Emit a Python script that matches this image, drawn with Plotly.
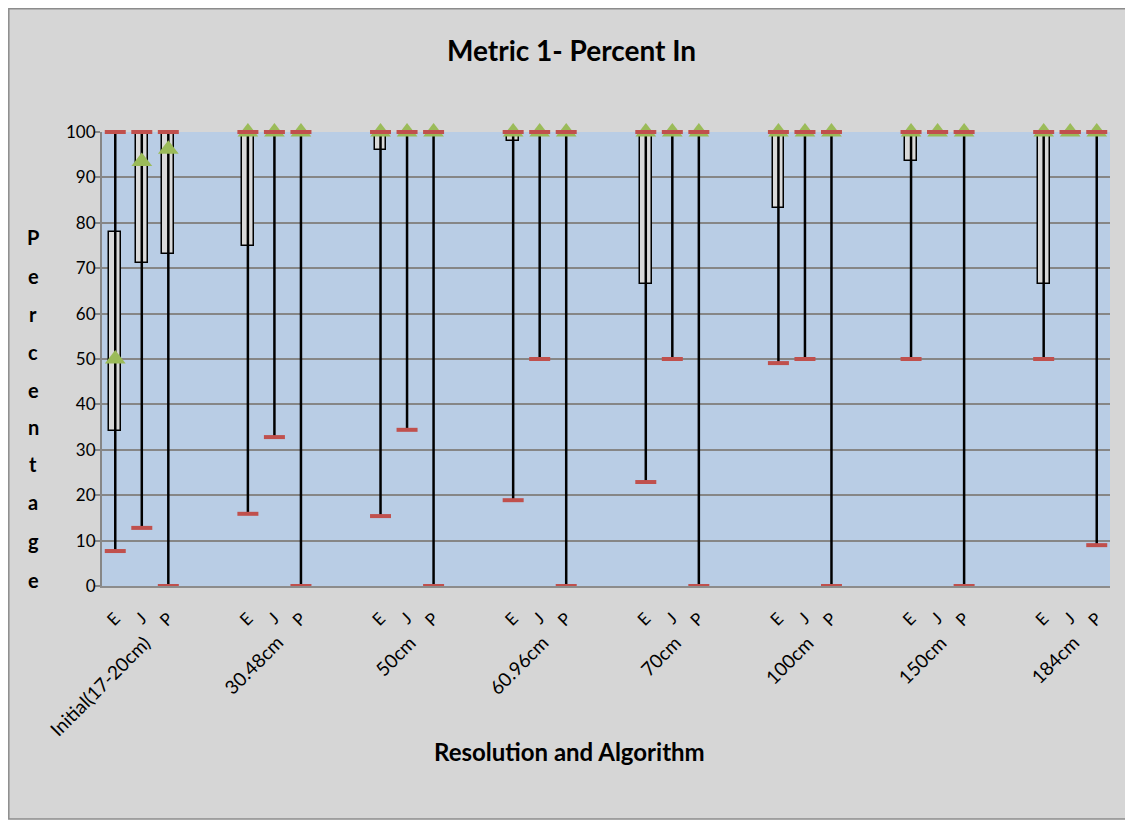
import plotly.graph_objects as go

# ---------------- data ----------------
groups = ["Initial(17-20cm)", "30.48cm", "50cm", "60.96cm", "70cm", "100cm", "150cm", "184cm"]
algorithms = ["E", "J", "P"]

# one value per (group, algorithm), in order E, J, P for each group
high = [100, 100, 100,  100, 100, 100,  100, 100, 100,  100, 100, 100,
        100, 100, 100,  100, 100, 100,  100, 100, 100,  100, 100, 100]
low = [7.7, 12.8, 0,  15.9, 32.8, 0,  15.4, 34.4, 0,  18.9, 50, 0,
       22.9, 50, 0,  49.1, 50, 0,  50, 100, 0,  50, 100, 9.0]
box_low = [34.2, 71.2, 73.1,  75, 100, 100,  96, 100, 100,  98, 100, 100,
           66.5, 100, 100,  83.3, 100, 100,  93.6, 100, 100,  66.5, 100, 100]
box_high = [78, 100, 100,  100, 100, 100,  100, 100, 100,  100, 100, 100,
            100, 100, 100,  100, 100, 100,  100, 100, 100,  100, 100, 100]
median = [50, 93.5, 96.2,  100, 100, 100,  100, 100, 100,  100, 100, 100,
          100, 100, 100,  100, 100, 100,  100, 100, 100,  100, 100, 100]
y_title = "Percentage"

# ---------------- positions (category slots: 3 used + 2 blank per group) ----------------
slots_per_group = 5
pos = []
labels = []
for gi, g in enumerate(groups):
    for ai, a in enumerate(algorithms):
        pos.append(gi * slots_per_group + ai)
        labels.append(a)
n_slots = len(groups) * slots_per_group - 2

# whiskers
wx, wy = [], []
for p, lo, hi in zip(pos, low, high):
    if hi > lo:
        wx += [p, p, None]
        wy += [lo, hi, None]

# boxes
bx, by, bb = [], [], []
for p, a, b in zip(pos, box_low, box_high):
    if b > a:
        bx.append(p)
        by.append(b - a)
        bb.append(a)

RED = "#c0504d"
fig = go.Figure()
fig.add_trace(go.Scatter(x=wx, y=wy, mode="lines", line=dict(color="black", width=2.5),
                         hoverinfo="skip", showlegend=False))
fig.add_trace(go.Bar(x=bx, y=by, base=bb, width=0.44, marker=dict(color="#d9d9d9",
                     line=dict(color="black", width=1.5)), showlegend=False))
fig.add_trace(go.Scatter(x=pos, y=median, mode="markers", cliponaxis=False,
                         marker=dict(symbol="triangle-up", size=18, color="#9bbb59"),
                         showlegend=False))
fig.add_trace(go.Scatter(x=pos + pos, y=high + low, mode="markers", cliponaxis=False,
                         marker=dict(symbol="line-ew-open", size=15, color=RED,
                                     line=dict(color=RED, width=4)),
                         showlegend=False))

FONT = "Lato"

# The page is rendered with an 8px body margin; reference pixel coords below.
OFF = 8
L, T, PW, PH = 102, 132, 1008, 454          # plot area in reference pixels
W, H = 1133 - OFF, 820 - OFF


def px_x(v):
    return (v - L) / PW


def px_y(v):
    return (T + PH - v) / PH


# group labels (top-right end of rotated text placed near the J slot)
for gi, g in enumerate(groups):
    fig.add_annotation(x=gi * slots_per_group + 1, y=px_y(628),
                       xref="x", yref="paper",
                       text=g, textangle=-45, xanchor="right", yanchor="top",
                       xshift=16, showarrow=False,
                       font=dict(family=FONT, size=19, color="black"))

# y axis title (stacked bold letters)
letter_y = [237, 276, 314, 352, 390, 427, 464, 502, 541, 580]
for ch, yy in zip(y_title, letter_y):
    fig.add_annotation(x=px_x(33), y=px_y(yy), xref="paper", yref="paper",
                       text="<b>%s</b>" % ch, showarrow=False,
                       font=dict(family=FONT, size=20, color="black"),
                       xanchor="center", yanchor="middle")

fig.add_annotation(x=px_x(569), y=px_y(751), xref="paper", yref="paper",
                   text="<b>Resolution and Algorithm</b>", showarrow=False,
                   font=dict(family=FONT, size=24, color="black"),
                   xanchor="center", yanchor="middle")
fig.add_annotation(x=px_x(571), y=px_y(50), xref="paper", yref="paper",
                   text="<b>Metric 1- Percent In</b>", showarrow=False,
                   font=dict(family=FONT, size=28, color="black"),
                   xanchor="center", yanchor="middle")

# backgrounds
fig.add_shape(type="rect", xref="paper", yref="paper", layer="below",
              x0=px_x(8.8), x1=px_x(1130), y0=px_y(819), y1=px_y(8.8),
              fillcolor="#d6d6d6", line=dict(color="#8c8c8c", width=1.5))
fig.add_shape(type="rect", xref="paper", yref="paper", layer="below",
              x0=0, x1=1, y0=0, y1=1, fillcolor="#b9cde5", line=dict(width=0))

fig.update_layout(
    width=W, height=H,
    margin=dict(l=L - OFF, r=W - (L - OFF) - PW, t=T - OFF, b=H - (T - OFF) - PH),
    paper_bgcolor="white", plot_bgcolor="#b9cde5",
    font=dict(family=FONT, size=16, color="black"),
    bargap=0, showlegend=False,
    xaxis=dict(range=[-0.5, n_slots - 0.5], tickvals=pos, ticktext=labels,
               tickangle=-45, showgrid=False, zeroline=False, showline=True,
               linecolor="#8c8c8c", linewidth=2, ticks="", fixedrange=True,
               ticklabelstandoff=14,
               tickfont=dict(family=FONT, size=17)),
    yaxis=dict(range=[0, 100], dtick=10, showgrid=True, gridcolor="#868686",
               gridwidth=2, zeroline=False, showline=True, linecolor="#868686",
               linewidth=2, ticks="outside", ticklen=5, tickcolor="#868686",
               tickwidth=2, ticklabelstandoff=-4,
               tickfont=dict(family=FONT, size=17)),
)

fig.write_html("out.html")
